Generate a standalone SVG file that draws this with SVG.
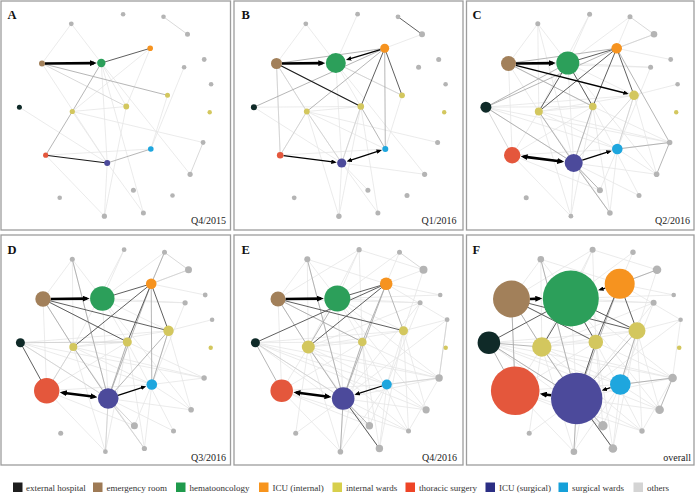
<svg xmlns="http://www.w3.org/2000/svg" xmlns:xlink="http://www.w3.org/1999/xlink" width="697" height="493" viewBox="0 0 697 493">
<style>
.frame{fill:#fff;stroke:#9d9d9d;stroke-width:1.3}
.lbl{font-family:"Liberation Serif",serif;font-weight:bold;font-size:12.5px;fill:#111}
.per{font-family:"Liberation Serif",serif;font-size:10px;fill:#222;text-anchor:end}
.leg{font-family:"Liberation Serif",serif;font-size:9px;fill:#333}
path{fill:none;stroke-linecap:round}
.e1 path,path.e1{stroke:#e6e6e6;stroke-width:0.8}
.e2{stroke:#cfcfcf;stroke-width:0.8}
.e3{stroke:#a9a9a9;stroke-width:0.85}
.e4{stroke:#565656;stroke-width:0.95}
.d1{stroke:#1a1a1a;stroke-width:1.15}
.a1{stroke:#000;stroke-width:1.3;stroke-linecap:butt}
.a2{stroke:#000;stroke-width:2.6;stroke-linecap:butt}
.ck{fill:#0f2a28}.cb{fill:#a2805a}.cg{fill:#2c9f5a}.co{fill:#f6931f}.cy{fill:#d3c75e}
.cr{fill:#e4573c}.cn{fill:#4c4a9b}.cc{fill:#1ea6de}.cp{fill:#b4b4b4}
</style>
<defs>
<marker id="mL" viewBox="0 0 10 10" refX="6" refY="5" markerWidth="7" markerHeight="6" markerUnits="userSpaceOnUse" orient="auto-start-reverse" preserveAspectRatio="none"><path d="M0 0L10 5L0 10z" style="fill:#000;stroke:none"/></marker>
<marker id="mS" viewBox="0 0 10 10" refX="6" refY="5" markerWidth="5.5" markerHeight="4.5" markerUnits="userSpaceOnUse" orient="auto-start-reverse" preserveAspectRatio="none"><path d="M0 0L10 5L0 10z" style="fill:#000;stroke:none"/></marker>
<g id="L1" class="e1">
<path d="M42 63.5L71.3 23.8"/><path d="M71.3 23.8L101.3 63"/><path d="M42 63.5L72.3 111.5"/><path d="M42 63.5L45.7 155.2"/>
<path d="M101.3 63L126.3 106.5"/><path d="M101.3 63L107.2 163"/><path d="M72.3 111.5L126.3 106.5"/><path d="M72.3 111.5L107.2 163"/>
<path d="M72.3 111.5L150.8 149"/><path d="M72.3 111.5L203.1 142.5"/><path d="M126.3 106.5L107.2 163"/><path d="M126.3 106.5L104.4 216.2"/>
<path d="M107.2 163L190.1 174.3"/><path d="M107.2 163L143.4 213"/><path d="M107.2 163L104.4 216.2"/><path d="M107.2 163L133.4 190.2"/>
<path d="M19.4 107.2L126.3 106.5"/><path d="M19.4 107.2L107.2 163"/><path d="M150.8 149L45.7 155.2"/><path d="M150.8 149L167.5 95.3"/>
<path d="M150.2 48.3L187.5 34.3"/><path d="M123.1 14.2L101.3 63"/><path d="M126.3 106.5L143.4 213"/><path d="M45.7 155.2L72.3 111.5"/>
<path d="M72.3 111.5L104.4 216.2"/><path d="M101.3 63L190.1 174.3"/><path d="M42 63.5L126.3 106.5"/><path d="M101.3 63L167.5 95.3"/>
</g>
<g id="L2" class="e1">
<path d="M19.4 107.2L167.5 95.3"/><path d="M19.4 107.2L150.8 149"/><path d="M19.4 107.2L203.1 142.5"/><path d="M72.3 111.5L143.4 213"/>
<path d="M45.7 155.2L133.4 190.2"/><path d="M45.7 155.2L126.3 106.5"/><path d="M71.3 23.8L72.3 111.5"/><path d="M71.3 23.8L107.2 163"/>
<path d="M123.1 14.2L72.3 111.5"/><path d="M163.5 16.8L150.2 48.3"/><path d="M163.5 16.8L101.3 63"/><path d="M101.3 63L184.1 67.3"/>
<path d="M42 63.5L184.1 67.3"/><path d="M150.2 48.3L204.2 59.5"/><path d="M167.5 95.3L190.1 174.3"/><path d="M150.8 149L190.1 174.3"/>
<path d="M150.8 149L143.4 213"/><path d="M126.3 106.5L203.1 142.5"/><path d="M211.1 84.2L167.5 95.3"/><path d="M133.4 190.2L150.8 149"/>
<path d="M172.5 195.5L107.2 163"/><path d="M172.5 195.5L126.3 106.5"/><path d="M45.7 155.2L104.4 216.2"/><path d="M72.3 111.5L167.5 95.3"/>
<path d="M184.1 67.3L150.8 149"/><path d="M203.1 142.5L150.8 149"/>
</g>
<g id="L3" class="e1">
<path d="M123.1 14.2L42 63.5"/><path d="M123.1 14.2L126.3 106.5"/><path d="M123.1 14.2L187.5 34.3"/><path d="M187.5 34.3L167.5 95.3"/>
<path d="M19.4 107.2L190.1 174.3"/><path d="M72.3 111.5L172.5 195.5"/><path d="M45.7 155.2L172.5 195.5"/><path d="M104.4 216.2L150.8 149"/>
<path d="M204.2 59.5L101.3 63"/><path d="M184.1 67.3L72.3 111.5"/><path d="M184.1 67.3L107.2 163"/><path d="M211.1 84.2L150.2 48.3"/>
<path d="M211.1 84.2L107.2 163"/><path d="M203.1 142.5L101.3 63"/><path d="M203.1 142.5L107.2 163"/><path d="M172.5 195.5L167.5 95.3"/>
<path d="M143.4 213L167.5 95.3"/><path d="M59.7 197.8L72.3 111.5"/><path d="M59.7 197.8L107.2 163"/><path d="M19.4 107.2L133.4 190.2"/>
<path d="M71.3 23.8L150.2 48.3"/><path d="M203.1 142.5L172.5 195.5"/><path d="M126.3 106.5L133.4 190.2"/><path d="M211.1 84.2L203.1 142.5"/>
</g>
</defs>
<rect width="697" height="493" fill="#fff"/>

<!-- Panel A -->
<g id="panelA">
<rect class="frame" x="1" y="1" width="229.5" height="229"/>
<text class="lbl" x="7.5" y="18.5">A</text>
<text class="per" x="226" y="224">Q4/2015</text>
<g transform="translate(0,0)">
<g id="A-links">
<g class="e1"><path d="M42 63.5L71.3 23.8"/><path d="M71.3 23.8L101.3 63"/><path d="M42 63.5L107.2 163"/><path d="M101.3 63L126.3 106.5"/><path d="M101.3 63L107.2 163"/><path d="M101.3 63L190.1 174.3"/><path d="M101.3 63L143.4 213"/><path d="M150.2 48.3L72.3 111.5"/><path d="M150.2 48.3L126.3 106.5"/><path d="M72.3 111.5L126.3 106.5"/><path d="M72.3 111.5L107.2 163"/><path d="M19.4 107.2L107.2 163"/><path d="M72.3 111.5L203.1 142.5"/><path d="M150.8 149L167.5 95.3"/><path d="M150.8 149L45.7 155.2"/><path d="M107.2 163L143.4 213"/><path d="M107.2 163L104.4 216.2"/><path d="M45.7 155.2L104.4 216.2"/><path d="M126.3 106.5L104.4 216.2"/><path d="M184.1 67.3L150.8 149"/></g>
<path class="e2" d="M42 63.5L126.3 106.5"/><path class="e2" d="M163.5 16.8L187.5 34.3"/><path class="e2" d="M203.1 142.5L190.1 174.3"/>
<path class="e3" d="M101.3 63L72.3 111.5"/><path class="e3" d="M42 63.5L167.5 95.3"/><path class="e3" d="M107.2 163L150.8 149"/><path class="e3" d="M72.3 111.5L45.7 155.2"/>
<path class="e4" d="M101.3 63L150.2 48.3"/>
<path class="d1" d="M45.7 155.2L107.2 163"/>
<path class="a2" d="M45 63.5L94 63.1" marker-end="url(#mL)"/>
</g>
<g id="A-ext" class="ck"><circle cx="19.4" cy="107.2" r="2.5"/></g>
<g id="A-er" class="cb"><circle cx="42" cy="63.5" r="3"/></g>
<g id="A-hem" class="cg"><circle cx="101.3" cy="63" r="4.2"/></g>
<g id="A-icui" class="co"><circle cx="150.2" cy="48.3" r="2.8"/></g>
<g id="A-iw1" class="cy"><circle cx="72.3" cy="111.5" r="2.6"/></g>
<g id="A-iw2" class="cy"><circle cx="126.3" cy="106.5" r="2.9"/></g>
<g id="A-iw3" class="cy"><circle cx="167.5" cy="95.3" r="2.5"/></g>
<g id="A-iw4" class="cy"><circle cx="209.7" cy="112.3" r="2.2"/></g>
<g id="A-ths" class="cr"><circle cx="45.7" cy="155.2" r="2.6"/></g>
<g id="A-icus" class="cn"><circle cx="107.2" cy="163" r="3"/></g>
<g id="A-sw" class="cc"><circle cx="150.8" cy="149" r="2.8"/></g>
<g id="A-o1" class="cp"><circle cx="71.3" cy="23.8" r="2.4"/></g>
<g id="A-o2" class="cp"><circle cx="123.1" cy="14.2" r="2.3"/></g>
<g id="A-o3" class="cp"><circle cx="163.5" cy="16.8" r="2.3"/></g>
<g id="A-o4" class="cp"><circle cx="187.5" cy="34.3" r="2.5"/></g>
<g id="A-o5" class="cp"><circle cx="204.2" cy="59.5" r="2.4"/></g>
<g id="A-o6" class="cp"><circle cx="184.1" cy="67.3" r="2.3"/></g>
<g id="A-o7" class="cp"><circle cx="211.1" cy="84.2" r="2.3"/></g>
<g id="A-o8" class="cp"><circle cx="203.1" cy="142.5" r="2.4"/></g>
<g id="A-o9" class="cp"><circle cx="190.1" cy="174.3" r="2.6"/></g>
<g id="A-o10" class="cp"><circle cx="172.5" cy="195.5" r="2.3"/></g>
<g id="A-o11" class="cp"><circle cx="133.4" cy="190.2" r="2.5"/></g>
<g id="A-o12" class="cp"><circle cx="143.4" cy="213" r="2.5"/></g>
<g id="A-o13" class="cp"><circle cx="104.4" cy="216.2" r="2.6"/></g>
<g id="A-o14" class="cp"><circle cx="59.7" cy="197.8" r="2.3"/></g>
</g>
</g>

<!-- Panel B -->
<g id="panelB">
<rect class="frame" x="234" y="1" width="229" height="229"/>
<text class="lbl" x="241.5" y="18.5">B</text>
<text class="per" x="456.5" y="224">Q1/2016</text>
<g transform="translate(234.5,0)">
<g id="B-links">
<use href="#L1" xlink:href="#L1"/>
<path class="e2" d="M42 63.5L72.3 111.5"/><path class="e2" d="M42 63.5L45.7 155.2"/><path class="e2" d="M72.3 111.5L45.7 155.2"/><path class="e2" d="M72.3 111.5L107.2 163"/><path class="e2" d="M126.3 106.5L107.2 163"/><path class="e2" d="M101.3 63L167.5 95.3"/>
<path class="e3" d="M42 63.5L150.2 48.3"/><path class="e3" d="M150.2 48.3L72.3 111.5"/><path class="e3" d="M150.2 48.3L150.8 149"/><path class="e3" d="M19.4 107.2L150.2 48.3"/><path class="e3" d="M126.3 106.5L150.8 149"/>
<path class="e4" d="M150.2 48.3L126.3 106.5"/><path class="e4" d="M150.2 48.3L167.5 95.3"/><path class="e4" d="M163.5 16.8L187.5 34.3"/>
<path class="d1" d="M42 63.5L126.3 106.5"/>
<path class="a2" d="M47.5 63.5L88 63.1" marker-end="url(#mL)"/>
<path class="a1" d="M145.9 49.6L113.5 59.3" marker-end="url(#mS)"/>
<path class="a1" d="M49 155.6L100.1 162.1" marker-end="url(#mS)"/>
<path class="a1" d="M114.1 160.8L145.4 150.7" marker-start="url(#mS)" marker-end="url(#mS)"/>
</g>
<g id="B-ext" class="ck"><circle cx="19.4" cy="107.2" r="3"/></g>
<g id="B-er" class="cb"><circle cx="42" cy="63.5" r="5.5"/></g>
<g id="B-hem" class="cg"><circle cx="101.3" cy="63" r="10"/></g>
<g id="B-icui" class="co"><circle cx="150.2" cy="48.3" r="4.5"/></g>
<g id="B-iw1" class="cy"><circle cx="72.3" cy="111.5" r="2.9"/></g>
<g id="B-iw2" class="cy"><circle cx="126.3" cy="106.5" r="3.3"/></g>
<g id="B-iw3" class="cy"><circle cx="167.5" cy="95.3" r="2.9"/></g>
<g id="B-iw4" class="cy"><circle cx="209.7" cy="112.3" r="2.2"/></g>
<g id="B-ths" class="cr"><circle cx="45.7" cy="155.2" r="3.3"/></g>
<g id="B-icus" class="cn"><circle cx="107.2" cy="163" r="4.6"/></g>
<g id="B-sw" class="cc"><circle cx="150.8" cy="149" r="3"/></g>
<g id="B-o1" class="cp"><circle cx="71.3" cy="23.8" r="2.4"/></g>
<g id="B-o2" class="cp"><circle cx="123.1" cy="14.2" r="2.4"/></g>
<g id="B-o3" class="cp"><circle cx="163.5" cy="16.8" r="2.4"/></g>
<g id="B-o4" class="cp"><circle cx="187.5" cy="34.3" r="3"/></g>
<g id="B-o5" class="cp"><circle cx="204.2" cy="59.5" r="2.5"/></g>
<g id="B-o6" class="cp"><circle cx="184.1" cy="67.3" r="2.5"/></g>
<g id="B-o7" class="cp"><circle cx="211.1" cy="84.2" r="2.3"/></g>
<g id="B-o8" class="cp"><circle cx="203.1" cy="142.5" r="2.5"/></g>
<g id="B-o9" class="cp"><circle cx="190.1" cy="174.3" r="2.6"/></g>
<g id="B-o10" class="cp"><circle cx="172.5" cy="195.5" r="2.5"/></g>
<g id="B-o11" class="cp"><circle cx="133.4" cy="190.2" r="2.5"/></g>
<g id="B-o12" class="cp"><circle cx="143.4" cy="213" r="2.5"/></g>
<g id="B-o13" class="cp"><circle cx="104.4" cy="216.2" r="2.7"/></g>
<g id="B-o14" class="cp"><circle cx="59.7" cy="197.8" r="2.4"/></g>
</g>
</g>

<!-- Panel C -->
<g id="panelC">
<rect class="frame" x="466.5" y="1" width="227.5" height="229"/>
<text class="lbl" x="472.5" y="18.5">C</text>
<text class="per" x="690" y="224">Q2/2016</text>
<g transform="translate(466.5,0)">
<g id="C-links">
<use href="#L1" xlink:href="#L1"/><use href="#L2" xlink:href="#L2"/>
<path class="e2" d="M19.4 107.2L45.7 155.2"/><path class="e2" d="M167.5 95.3L107.2 163"/><path class="e2" d="M167.5 95.3L150.8 149"/><path class="e2" d="M163.5 16.8L187.5 34.3"/><path class="e2" d="M187.5 34.3L150.2 48.3"/>
<path class="e3" d="M42 63.5L150.2 48.3"/><path class="e3" d="M19.4 107.2L101.3 63"/><path class="e3" d="M19.4 107.2L150.2 48.3"/><path class="e3" d="M42 63.5L126.3 106.5"/><path class="e3" d="M150.2 48.3L203.1 142.5"/><path class="e3" d="M203.1 142.5L190.1 174.3"/><path class="e3" d="M203.1 142.5L150.8 149"/><path class="e3" d="M19.4 107.2L107.2 163"/><path class="e3" d="M107.2 163L143.4 213"/><path class="e3" d="M107.2 163L133.4 190.2"/><path class="e3" d="M126.3 106.5L107.2 163"/><path class="e3" d="M72.3 111.5L107.2 163"/>
<path class="e4" d="M101.3 63L150.2 48.3"/><path class="e4" d="M150.2 48.3L72.3 111.5"/><path class="e4" d="M150.2 48.3L126.3 106.5"/><path class="e4" d="M150.2 48.3L167.5 95.3"/><path class="e4" d="M101.3 63L72.3 111.5"/><path class="e4" d="M101.3 63L126.3 106.5"/>
<path class="a2" d="M49.5 63.5L86.5 63.1" marker-end="url(#mL)"/>
<path class="a1" d="M49.3 65.3L160.2 93.5" marker-end="url(#mS)"/>
<path class="a2" d="M56.9 156.6L95 161.5" marker-start="url(#mL)" marker-end="url(#mL)"/>
<path class="a1" d="M115.8 160.2L143.2 151.4" marker-end="url(#mS)"/>
</g>
<g id="C-ext" class="ck"><circle cx="19.4" cy="107.2" r="5.5"/></g>
<g id="C-er" class="cb"><circle cx="42" cy="63.5" r="7.5"/></g>
<g id="C-hem" class="cg"><circle cx="101.3" cy="63" r="11.5"/></g>
<g id="C-icui" class="co"><circle cx="150.2" cy="48.3" r="5.3"/></g>
<g id="C-iw1" class="cy"><circle cx="72.3" cy="111.5" r="4"/></g>
<g id="C-iw2" class="cy"><circle cx="126.3" cy="106.5" r="3.8"/></g>
<g id="C-iw3" class="cy"><circle cx="167.5" cy="95.3" r="4.8"/></g>
<g id="C-iw4" class="cy"><circle cx="209.7" cy="112.3" r="2.2"/></g>
<g id="C-ths" class="cr"><circle cx="45.7" cy="155.2" r="8.2"/></g>
<g id="C-icus" class="cn"><circle cx="107.2" cy="163" r="9"/></g>
<g id="C-sw" class="cc"><circle cx="150.8" cy="149" r="5.3"/></g>
<g id="C-o1" class="cp"><circle cx="71.3" cy="23.8" r="2.5"/></g>
<g id="C-o2" class="cp"><circle cx="123.1" cy="14.2" r="2.5"/></g>
<g id="C-o3" class="cp"><circle cx="163.5" cy="16.8" r="2.5"/></g>
<g id="C-o4" class="cp"><circle cx="187.5" cy="34.3" r="3.3"/></g>
<g id="C-o5" class="cp"><circle cx="204.2" cy="59.5" r="2.4"/></g>
<g id="C-o6" class="cp"><circle cx="184.1" cy="67.3" r="2.5"/></g>
<g id="C-o7" class="cp"><circle cx="211.1" cy="84.2" r="2.3"/></g>
<g id="C-o8" class="cp"><circle cx="203.1" cy="142.5" r="2.8"/></g>
<g id="C-o9" class="cp"><circle cx="190.1" cy="174.3" r="2.8"/></g>
<g id="C-o10" class="cp"><circle cx="172.5" cy="195.5" r="2.5"/></g>
<g id="C-o11" class="cp"><circle cx="133.4" cy="190.2" r="3"/></g>
<g id="C-o12" class="cp"><circle cx="143.4" cy="213" r="2.8"/></g>
<g id="C-o13" class="cp"><circle cx="104.4" cy="216.2" r="2.4"/></g>
<g id="C-o14" class="cp"><circle cx="59.7" cy="197.8" r="2.5"/></g>
</g>
</g>

<!-- Panel D -->
<g id="panelD">
<rect class="frame" x="1" y="235" width="229.5" height="230"/>
<text class="lbl" x="7.5" y="254">D</text>
<text class="per" x="226" y="461">Q3/2016</text>
<g transform="translate(1,235.5)">
<g id="D-links">
<use href="#L1" xlink:href="#L1"/><use href="#L2" xlink:href="#L2"/>
<path class="e2" d="M107.2 163L143.4 213"/><path class="e2" d="M107.2 163L133.4 190.2"/><path class="e2" d="M107.2 163L104.4 216.2"/><path class="e2" d="M19.4 107.2L107.2 163"/><path class="e2" d="M45.7 155.2L72.3 111.5"/><path class="e2" d="M163.5 16.8L187.5 34.3"/><path class="e2" d="M187.5 34.3L150.2 48.3"/><path class="e2" d="M19.4 107.2L126.3 106.5"/>
<path class="e3" d="M71.3 23.8L107.2 163"/><path class="e3" d="M150.2 48.3L150.8 149"/><path class="e3" d="M167.5 95.3L107.2 163"/><path class="e3" d="M150.2 48.3L107.2 163"/><path class="e3" d="M72.3 111.5L107.2 163"/><path class="e3" d="M126.3 106.5L107.2 163"/><path class="e3" d="M42 63.5L72.3 111.5"/><path class="e3" d="M163.5 16.8L150.2 48.3"/><path class="e3" d="M167.5 95.3L150.8 149"/>
<path class="e4" d="M101.3 63L150.2 48.3"/><path class="e4" d="M42 63.5L167.5 95.3"/><path class="e4" d="M42 63.5L126.3 106.5"/><path class="e4" d="M150.2 48.3L72.3 111.5"/><path class="e4" d="M150.2 48.3L126.3 106.5"/><path class="e4" d="M150.2 48.3L167.5 95.3"/><path class="e4" d="M19.4 107.2L45.7 155.2"/>
<path class="a2" d="M49.7 63.5L85.8 63.1" marker-end="url(#mL)"/>
<path class="a2" d="M61.6 157.2L93.7 161.3" marker-start="url(#mL)" marker-end="url(#mL)"/>
<path class="a1" d="M117 159.8L143.2 151.4" marker-end="url(#mS)"/>
</g>
<g id="D-ext" class="ck"><circle cx="19.4" cy="107.2" r="4.5"/></g>
<g id="D-er" class="cb"><circle cx="42" cy="63.5" r="7.7"/></g>
<g id="D-hem" class="cg"><circle cx="101.3" cy="63" r="12.2"/></g>
<g id="D-icui" class="co"><circle cx="150.2" cy="48.3" r="5.3"/></g>
<g id="D-iw1" class="cy"><circle cx="72.3" cy="111.5" r="4"/></g>
<g id="D-iw2" class="cy"><circle cx="126.3" cy="106.5" r="4.5"/></g>
<g id="D-iw3" class="cy"><circle cx="167.5" cy="95.3" r="5.2"/></g>
<g id="D-iw4" class="cy"><circle cx="209.7" cy="112.3" r="2.2"/></g>
<g id="D-ths" class="cr"><circle cx="45.7" cy="155.2" r="12.7"/></g>
<g id="D-icus" class="cn"><circle cx="107.2" cy="163" r="10.3"/></g>
<g id="D-sw" class="cc"><circle cx="150.8" cy="149" r="5.3"/></g>
<g id="D-o1" class="cp"><circle cx="71.3" cy="23.8" r="2.5"/></g>
<g id="D-o2" class="cp"><circle cx="123.1" cy="14.2" r="2.4"/></g>
<g id="D-o3" class="cp"><circle cx="163.5" cy="16.8" r="2.5"/></g>
<g id="D-o4" class="cp"><circle cx="187.5" cy="34.3" r="3.5"/></g>
<g id="D-o5" class="cp"><circle cx="204.2" cy="59.5" r="2.4"/></g>
<g id="D-o6" class="cp"><circle cx="184.1" cy="67.3" r="2.6"/></g>
<g id="D-o7" class="cp"><circle cx="211.1" cy="84.2" r="2.3"/></g>
<g id="D-o8" class="cp"><circle cx="203.1" cy="142.5" r="2.7"/></g>
<g id="D-o9" class="cp"><circle cx="190.1" cy="174.3" r="2.8"/></g>
<g id="D-o10" class="cp"><circle cx="172.5" cy="195.5" r="2.5"/></g>
<g id="D-o11" class="cp"><circle cx="133.4" cy="190.2" r="3.5"/></g>
<g id="D-o12" class="cp"><circle cx="143.4" cy="213" r="2.6"/></g>
<g id="D-o13" class="cp"><circle cx="104.4" cy="216.2" r="2.4"/></g>
<g id="D-o14" class="cp"><circle cx="59.7" cy="197.8" r="2.5"/></g>
</g>
</g>

<!-- Panel E -->
<g id="panelE">
<rect class="frame" x="234" y="235" width="229" height="230"/>
<text class="lbl" x="241.5" y="254">E</text>
<text class="per" x="457" y="461">Q4/2016</text>
<g transform="translate(236,235.5)">
<g id="E-links">
<use href="#L1" xlink:href="#L1"/><use href="#L2" xlink:href="#L2"/><use href="#L3" xlink:href="#L3"/>
<path class="e2" d="M163.5 16.8L187.5 34.3"/><path class="e2" d="M19.4 107.2L107.2 163"/><path class="e2" d="M211.1 84.2L203.1 142.5"/><path class="e2" d="M203.1 142.5L150.8 149"/>
<path class="e3" d="M42 63.5L126.3 106.5"/><path class="e3" d="M150.2 48.3L126.3 106.5"/><path class="e3" d="M150.2 48.3L167.5 95.3"/><path class="e3" d="M150.2 48.3L107.2 163"/><path class="e3" d="M101.3 63L72.3 111.5"/><path class="e3" d="M126.3 106.5L107.2 163"/><path class="e3" d="M107.2 163L133.4 190.2"/><path class="e3" d="M42 63.5L72.3 111.5"/><path class="e3" d="M19.4 107.2L45.7 155.2"/><path class="e3" d="M107.2 163L104.4 216.2"/><path class="e3" d="M72.3 111.5L107.2 163"/><path class="e3" d="M71.3 23.8L107.2 163"/>
<path class="e4" d="M101.3 63L150.2 48.3"/><path class="e4" d="M19.4 107.2L150.2 48.3"/><path class="e4" d="M150.2 48.3L72.3 111.5"/><path class="e4" d="M42 63.5L167.5 95.3"/><path class="e4" d="M107.2 163L143.4 213"/>
<path class="a2" d="M49.5 63.5L85 63.1" marker-end="url(#mL)"/>
<path class="a2" d="M60.2 157L92.7 161.2" marker-start="url(#mL)" marker-end="url(#mL)"/>
<path class="a1" d="M146 150.5L120.5 158.7" marker-end="url(#mS)"/>
</g>
<g id="E-ext" class="ck"><circle cx="19.4" cy="107.2" r="4.5"/></g>
<g id="E-er" class="cb"><circle cx="42" cy="63.5" r="7.5"/></g>
<g id="E-hem" class="cg"><circle cx="101.3" cy="63" r="13"/></g>
<g id="E-icui" class="co"><circle cx="150.2" cy="48.3" r="6.3"/></g>
<g id="E-iw1" class="cy"><circle cx="72.3" cy="111.5" r="6.5"/></g>
<g id="E-iw2" class="cy"><circle cx="126.3" cy="106.5" r="4.3"/></g>
<g id="E-iw3" class="cy"><circle cx="167.5" cy="95.3" r="4.5"/></g>
<g id="E-iw4" class="cy"><circle cx="209.7" cy="112.3" r="2.2"/></g>
<g id="E-ths" class="cr"><circle cx="45.7" cy="155.2" r="11.3"/></g>
<g id="E-icus" class="cn"><circle cx="107.2" cy="163" r="11.3"/></g>
<g id="E-sw" class="cc"><circle cx="150.8" cy="149" r="5"/></g>
<g id="E-o1" class="cp"><circle cx="71.3" cy="23.8" r="3"/></g>
<g id="E-o2" class="cp"><circle cx="123.1" cy="14.2" r="2.6"/></g>
<g id="E-o3" class="cp"><circle cx="163.5" cy="16.8" r="2.5"/></g>
<g id="E-o4" class="cp"><circle cx="187.5" cy="34.3" r="4"/></g>
<g id="E-o5" class="cp"><circle cx="204.2" cy="59.5" r="2.3"/></g>
<g id="E-o6" class="cp"><circle cx="184.1" cy="67.3" r="2.5"/></g>
<g id="E-o7" class="cp"><circle cx="211.1" cy="84.2" r="2.4"/></g>
<g id="E-o8" class="cp"><circle cx="203.1" cy="142.5" r="3.7"/></g>
<g id="E-o9" class="cp"><circle cx="190.1" cy="174.3" r="3.6"/></g>
<g id="E-o10" class="cp"><circle cx="172.5" cy="195.5" r="2.5"/></g>
<g id="E-o11" class="cp"><circle cx="133.4" cy="190.2" r="3.7"/></g>
<g id="E-o12" class="cp"><circle cx="143.4" cy="213" r="3.7"/></g>
<g id="E-o13" class="cp"><circle cx="104.4" cy="216.2" r="2.8"/></g>
<g id="E-o14" class="cp"><circle cx="59.7" cy="197.8" r="2.5"/></g>
</g>
</g>

<!-- Panel F -->
<g id="panelF">
<rect class="frame" x="466.5" y="235" width="227.5" height="230"/>
<text class="lbl" x="472.5" y="254">F</text>
<text class="per" x="691" y="461">overall</text>
<g transform="translate(469.5,235.5)">
<g id="F-links">
<use href="#L1" xlink:href="#L1"/><use href="#L2" xlink:href="#L2"/><use href="#L3" xlink:href="#L3"/>
<path class="e3" d="M19.4 107.2L45.7 155.2"/><path class="e3" d="M42 63.5L72.3 111.5"/><path class="e3" d="M150.2 48.3L107.2 163"/><path class="e3" d="M72.3 111.5L107.2 163"/><path class="e3" d="M19.4 107.2L107.2 163"/><path class="e3" d="M107.2 163L133.4 190.2"/><path class="e3" d="M107.2 163L104.4 216.2"/><path class="e3" d="M167.5 95.3L107.2 163"/><path class="e3" d="M150.8 149L203.1 142.5"/><path class="e3" d="M167.5 95.3L150.8 149"/><path class="e3" d="M203.1 142.5L190.1 174.3"/><path class="e3" d="M150.2 48.3L187.5 34.3"/><path class="e3" d="M71.3 23.8L107.2 163"/><path class="e3" d="M42 63.5L45.7 155.2"/><path class="e3" d="M19.4 107.2L72.3 111.5"/>
<path class="e4" d="M42 63.5L167.5 95.3"/><path class="e4" d="M19.4 107.2L101.3 63"/><path class="e4" d="M101.3 63L72.3 111.5"/><path class="e4" d="M101.3 63L126.3 106.5"/><path class="e4" d="M150.2 48.3L126.3 106.5"/><path class="e4" d="M150.2 48.3L167.5 95.3"/><path class="e4" d="M126.3 106.5L107.2 163"/><path class="e4" d="M107.2 163L143.4 213"/><path class="e4" d="M42 63.5L126.3 106.5"/><path class="e4" d="M101.3 63L167.5 95.3"/>
<path class="a2" d="M60.5 63.5L70 63.1" marker-end="url(#mL)"/>
<path class="a1" d="M135.8 52.6L130.7 54.2" marker-end="url(#mS)"/>
<path class="a2" d="M81.7 159.8L73.1 158.7" marker-end="url(#mL)"/>
<path class="a1" d="M141 152.2L134.2 154.3" marker-end="url(#mS)"/>
</g>
<g id="F-ext" class="ck"><circle cx="19.4" cy="107.2" r="11.3"/></g>
<g id="F-er" class="cb"><circle cx="42" cy="63.5" r="18.5"/></g>
<g id="F-hem" class="cg"><circle cx="101.3" cy="63" r="28"/></g>
<g id="F-icui" class="co"><circle cx="150.2" cy="48.3" r="15"/></g>
<g id="F-iw1" class="cy"><circle cx="72.3" cy="111.5" r="9.7"/></g>
<g id="F-iw2" class="cy"><circle cx="126.3" cy="106.5" r="7.3"/></g>
<g id="F-iw3" class="cy"><circle cx="167.5" cy="95.3" r="8.5"/></g>
<g id="F-iw4" class="cy"><circle cx="209.7" cy="112.3" r="2.3"/></g>
<g id="F-ths" class="cr"><circle cx="45.7" cy="155.2" r="24.3"/></g>
<g id="F-icus" class="cn"><circle cx="107.2" cy="163" r="25.7"/></g>
<g id="F-sw" class="cc"><circle cx="150.8" cy="149" r="10.3"/></g>
<g id="F-o1" class="cp"><circle cx="71.3" cy="23.8" r="3.3"/></g>
<g id="F-o2" class="cp"><circle cx="123.1" cy="14.2" r="3"/></g>
<g id="F-o3" class="cp"><circle cx="163.5" cy="16.8" r="2.7"/></g>
<g id="F-o4" class="cp"><circle cx="187.5" cy="34.3" r="4.3"/></g>
<g id="F-o5" class="cp"><circle cx="204.2" cy="59.5" r="2.3"/></g>
<g id="F-o6" class="cp"><circle cx="184.1" cy="67.3" r="3"/></g>
<g id="F-o7" class="cp"><circle cx="211.1" cy="84.2" r="2.3"/></g>
<g id="F-o8" class="cp"><circle cx="203.1" cy="142.5" r="4.3"/></g>
<g id="F-o9" class="cp"><circle cx="190.1" cy="174.3" r="4.3"/></g>
<g id="F-o10" class="cp"><circle cx="172.5" cy="195.5" r="2.7"/></g>
<g id="F-o11" class="cp"><circle cx="133.4" cy="190.2" r="4.7"/></g>
<g id="F-o12" class="cp"><circle cx="143.4" cy="213" r="4.3"/></g>
<g id="F-o13" class="cp"><circle cx="104.4" cy="216.2" r="3.3"/></g>
<g id="F-o14" class="cp"><circle cx="59.7" cy="197.8" r="2.5"/></g>
</g>
</g>

<!-- Legend -->
<g id="legend">
<rect x="13" y="482.5" width="9.5" height="9.5" fill="#1e1e1e"/><text class="leg" x="26" y="490.5">external hospital</text>
<rect x="93" y="482.5" width="9.5" height="9.5" fill="#9e7a55"/><text class="leg" x="106.5" y="490.5">emergency room</text>
<rect x="176" y="482.5" width="9.5" height="9.5" fill="#1f9a4c"/><text class="leg" x="189.5" y="490.5">hematooncology</text>
<rect x="259" y="482.5" width="9.5" height="9.5" fill="#f7941d"/><text class="leg" x="272.5" y="490.5">ICU (internal)</text>
<rect x="332.5" y="482.5" width="9.5" height="9.5" fill="#d7cf4c"/><text class="leg" x="346" y="490.5">internal wards</text>
<rect x="405.5" y="482.5" width="9.5" height="9.5" fill="#ee4426"/><text class="leg" x="419" y="490.5">thoracic surgery</text>
<rect x="485.5" y="482.5" width="9.5" height="9.5" fill="#2b2e84"/><text class="leg" x="499" y="490.5">ICU (surgical)</text>
<rect x="558.5" y="482.5" width="9.5" height="9.5" fill="#15a0d9"/><text class="leg" x="572" y="490.5">surgical wards</text>
<rect x="633.5" y="482.5" width="9.5" height="9.5" fill="#d4d4d4"/><text class="leg" x="647" y="490.5">others</text>
</g>
</svg>
